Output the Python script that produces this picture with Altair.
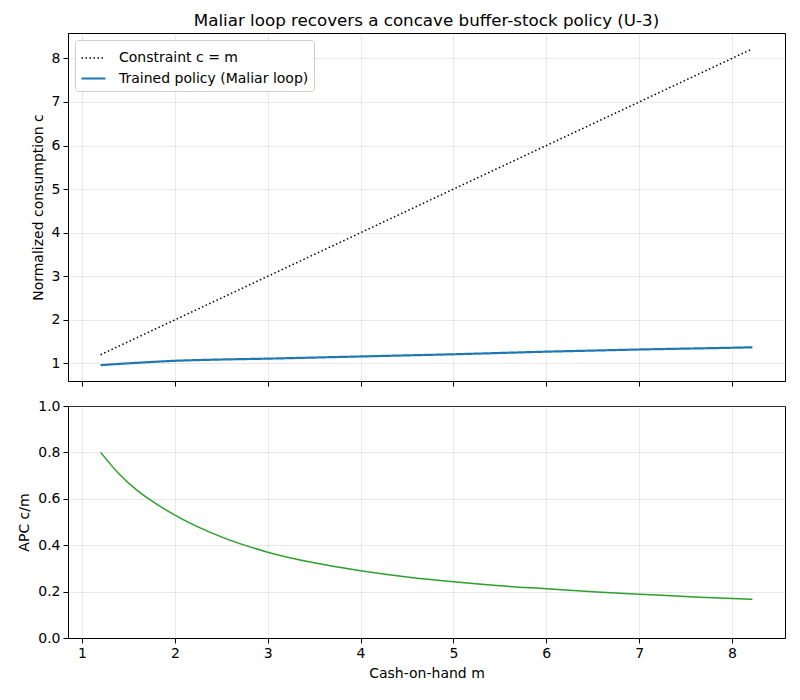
import pandas as pd
import altair as alt

# cash-on-hand grid and values
m_grid = [1.2, 1.4, 1.6, 1.8, 2.0, 2.5, 3.0, 3.5, 4.0, 4.5, 5.0, 5.5, 6.0, 6.5, 7.0, 7.5, 8.0, 8.22]
c_policy = [0.96, 0.99, 1.015, 1.04, 1.06, 1.09, 1.11, 1.135, 1.16, 1.185, 1.21, 1.24, 1.27, 1.295,
            1.32, 1.34, 1.36, 1.37]
apc = [0.80, 0.707, 0.634, 0.578, 0.53, 0.436, 0.37, 0.324, 0.29, 0.263, 0.242, 0.225, 0.212, 0.199,
       0.189, 0.179, 0.17, 0.167]

m_constraint = [1.2, 8.22]
c_constraint = [1.2, 8.22]

series = ['Constraint c = m', 'Trained policy (Maliar loop)']

top_df = pd.concat([
    pd.DataFrame({'m': m_constraint, 'c': c_constraint, 'series': series[0]}),
    pd.DataFrame({'m': m_grid, 'c': c_policy, 'series': series[1]}),
])
apc_df = pd.DataFrame({'m': m_grid, 'apc': apc})

x_scale = alt.Scale(domain=[0.849, 8.571], nice=False, zero=False)
grid = dict(grid=True, gridColor='#b0b0b0', gridOpacity=0.35, gridWidth=0.8)

top = alt.Chart(top_df).mark_line(interpolate='monotone').encode(
    x=alt.X('m:Q', scale=x_scale, axis=alt.Axis(labels=False, title=None, values=list(range(1, 9)), **grid)),
    y=alt.Y('c:Q', scale=alt.Scale(domain=[0.597, 8.583], nice=False, zero=False),
            axis=alt.Axis(title='Normalized consumption c', values=list(range(1, 9)), **grid)),
    color=alt.Color('series:N', scale=alt.Scale(domain=series, range=['black', '#1f77b4']), title=None),
    strokeDash=alt.StrokeDash('series:N', scale=alt.Scale(domain=series, range=[[1.5, 2.5], [1, 0]]), title=None),
    strokeWidth=alt.StrokeWidth('series:N', scale=alt.Scale(domain=series, range=[1.5, 2.2]), title=None),
    order='m:Q'
).properties(
    width=717, height=348,
    title=alt.TitleParams('Maliar loop recovers a concave buffer-stock policy (U-3)',
                          fontSize=16.7, fontWeight='normal', font='DejaVu Sans', offset=3)
)

bottom = alt.Chart(apc_df).mark_line(color='#2ca02c', strokeWidth=1.5, interpolate='monotone').encode(
    x=alt.X('m:Q', scale=x_scale, axis=alt.Axis(title='Cash-on-hand m', values=list(range(1, 9)), **grid)),
    y=alt.Y('apc:Q', scale=alt.Scale(domain=[0, 1], nice=False),
            axis=alt.Axis(title='APC c/m', values=[0, 0.2, 0.4, 0.6, 0.8, 1.0], format='.1f', **grid))
).properties(width=717, height=232)

chart = alt.vconcat(top, bottom, spacing=11).properties(
    padding={'left': 9, 'top': 4, 'right': 5, 'bottom': 5}
).configure_view(
    stroke='black', strokeWidth=1
).configure_axis(
    labelFont='DejaVu Sans', titleFont='DejaVu Sans', labelFontSize=14, titleFontSize=14,
    titleFontWeight='normal', labelColor='black', titleColor='black',
    domainColor='black', tickColor='black', tickSize=5, labelPadding=3, titlePadding=6
).configure_legend(
    orient='top-left', offset=7, labelFont='DejaVu Sans', labelFontSize=14, labelColor='black',
    symbolType='stroke', symbolSize=576, labelOffset=12, rowPadding=0, padding=5, labelLimit=0,
    strokeColor='#cccccc', fillColor='white', cornerRadius=3
)

chart.save("out.html", embed_options={"renderer": "svg", "actions": False})
